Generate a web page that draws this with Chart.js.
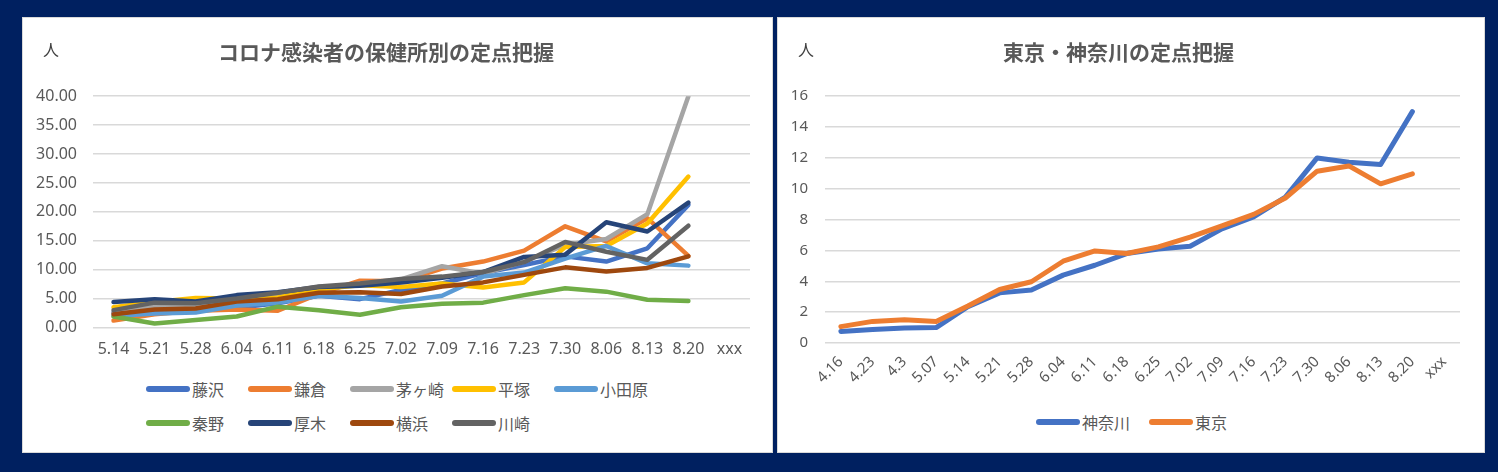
<!DOCTYPE html>
<html>
<head>
<meta charset="utf-8">
<script src="https://cdn.jsdelivr.net/npm/chart.js@4.4.1/dist/chart.umd.min.js"></script>
<style>
html, body { margin: 0; padding: 0; }
body { width: 1498px; height: 472px; background: #002060; position: relative; overflow: hidden; }
.panel { position: absolute; background: #fff; border: 1px solid #d9d9d9; box-sizing: border-box; }
canvas { position: absolute; }
.unit { position: absolute; font-family: 'Noto Sans CJK JP', sans-serif; font-size: 16px; color: #404040; line-height: 20px; }
.legend { position: absolute; font-family: 'Noto Sans CJK JP', sans-serif; font-size: 16px; color: #595959; }
.legend .item { display: flex; align-items: center; height: 34px; }
.legend .swatch { width: 44px; height: 6px; border-radius: 3px; margin-right: 2px; }
</style>
</head>
<body>
<div class="panel" style="left:22px; top:17px; width:751px; height:436px;"></div>
<div class="panel" style="left:777px; top:17px; width:708px; height:436px;"></div>
<canvas id="by-office" width="750" height="350" style="left:22px; top:17px;"></canvas>
<canvas id="tokyo-kanagawa" width="708" height="385" style="left:777px; top:17px;"></canvas>
<div class="unit" style="left:43px; top:39px;">人</div>
<div class="unit" style="left:798px; top:39px;">人</div>
<div class="legend" id="legend-office" style="left:146px; top:372px; display:grid; grid-template-columns:repeat(5, 102px);"></div>
<div class="legend" id="legend-tk" style="left:1036px; top:405px; display:flex; gap:19px;"></div>

<script>
// weekly fixed-point counts per health centre (left chart)
const officeWeeks = ['5.14', '5.21', '5.28', '6.04', '6.11', '6.18', '6.25', '7.02', '7.09', '7.16', '7.23', '7.30', '8.06', '8.13', '8.20', 'xxx'];
const officeNames = ['藤沢', '鎌倉', '茅ヶ崎', '平塚', '小田原', '秦野', '厚木', '横浜', '川崎'];
const officeColors = ['#4472C4', '#ED7D31', '#A5A5A5', '#FFC000', '#5B9BD5', '#70AD47', '#264478', '#9E480E', '#636363'];

const fujisawa  = [2.5, 2.7, 2.9, 3.4, 4.2, 5.5, 4.9, 6.5, 7.6, 9.4, 10.8, 12.3, 11.4, 13.7, 21.2];
const kamakura  = [1.2, 2.3, 2.9, 3.1, 2.9, 5.8, 8.1, 8.0, 10.2, 11.4, 13.3, 17.5, 14.9, 18.9, 12.4];
const chigasaki = [2.6, 3.6, 3.8, 4.5, 5.4, 6.5, 7.6, 8.3, 10.6, 9.3, 11.4, 14.3, 15.3, 19.6, 40.0];
const hiratsuka = [3.5, 4.4, 5.1, 5.0, 5.2, 6.6, 7.3, 7.0, 7.6, 6.9, 7.8, 13.9, 14.1, 18.0, 26.1];
const odawara   = [2.0, 2.4, 2.6, 3.8, 4.3, 5.5, 5.1, 4.5, 5.5, 8.8, 9.5, 11.9, 14.1, 11.1, 10.7];
const hadano    = [1.9, 0.7, 1.3, 1.9, 3.6, 3.0, 2.2, 3.5, 4.1, 4.3, 5.6, 6.8, 6.2, 4.8, 4.6];
const atsugi    = [4.4, 4.9, 4.5, 5.6, 6.1, 7.0, 7.2, 7.8, 8.6, 9.6, 12.2, 12.6, 18.2, 16.6, 21.6];
const yokohama  = [2.3, 3.1, 3.3, 4.5, 4.9, 6.0, 6.1, 5.8, 7.1, 7.8, 9.1, 10.4, 9.7, 10.3, 12.3];
const kawasaki  = [3.0, 4.3, 4.2, 5.0, 6.0, 7.1, 7.6, 8.4, 8.8, 9.6, 11.3, 14.8, 13.1, 11.7, 17.6];
const officeValues = [fujisawa, kamakura, chigasaki, hiratsuka, odawara, hadano, atsugi, yokohama, kawasaki];

// Tokyo vs Kanagawa (right chart)
const tkWeeks = ['4.16', '4.23', '4.3', '5.07', '5.14', '5.21', '5.28', '6.04', '6.11', '6.18', '6.25', '7.02', '7.09', '7.16', '7.23', '7.30', '8.06', '8.13', '8.20', 'xxx'];
const tkNames = ['神奈川', '東京'];
const tkColors = ['#4472C4', '#ED7D31'];
const kanagawa = [0.75, 0.88, 0.98, 1.0, 2.35, 3.25, 3.43, 4.4, 5.04, 5.8, 6.1, 6.27, 7.4, 8.17, 9.46, 12.0, 11.72, 11.57, 15.0];
const tokyo    = [1.06, 1.4, 1.5, 1.4, 2.4, 3.47, 3.97, 5.3, 5.97, 5.8, 6.23, 6.87, 7.6, 8.34, 9.4, 11.14, 11.48, 10.32, 10.97];
const tkValues = [kanagawa, tokyo];

const FONT = "'Noto Sans', 'Noto Sans CJK JP', sans-serif";
const TEXT_GREY = '#595959';
const GRID_GREY = '#D9D9D9';

function makeDatasets(names, values, colors, width) {
    // later series sit on top, like the spreadsheet
    return names.map((name, i) => ({
        label: name,
        data: values[i],
        borderColor: colors[i],
        backgroundColor: colors[i],
        borderWidth: width,
        borderCapStyle: 'round',
        borderJoinStyle: 'round',
        pointRadius: 0,
        tension: 0,
        fill: false,
        order: -i,
    }));
}

function buildLegend(id, names, colors) {
    const box = document.getElementById(id);
    names.forEach((name, i) => {
        const item = document.createElement('div');
        item.className = 'item';
        item.innerHTML = `<span class="swatch" style="background:${colors[i]}"></span><span>${name}</span>`;
        box.appendChild(item);
    });
}

function lineChart(canvasId, title, labels, datasets, yOpts, xOpts) {
    const ctx = document.getElementById(canvasId).getContext('2d');
    return new Chart(ctx, {
        type: 'line',
        data: { labels: labels, datasets: datasets },
        options: {
            responsive: false,
            animation: false,
            layout: { padding: { left: 0, right: xOpts.padRight, top: 0, bottom: 0 } },
            scales: {
                x: {
                    offset: true,
                    grid: { display: false, drawTicks: false },
                    border: { display: false },
                    ticks: {
                        color: TEXT_GREY,
                        font: { family: FONT, size: xOpts.fontSize },
                        padding: xOpts.tickPadding,
                        autoSkip: false,
                        minRotation: xOpts.rotation,
                        maxRotation: xOpts.rotation,
                    },
                    afterFit: (scale) => { scale.height = xOpts.height; },
                },
                y: {
                    min: yOpts.min,
                    max: yOpts.max,
                    grid: { color: GRID_GREY, lineWidth: 1.5, drawTicks: false },
                    border: { display: false },
                    ticks: {
                        stepSize: yOpts.step,
                        color: TEXT_GREY,
                        font: { family: FONT, size: yOpts.fontSize },
                        padding: yOpts.tickPadding,
                        callback: yOpts.format,
                    },
                    afterFit: (scale) => { scale.width = yOpts.width; },
                },
            },
            plugins: {
                legend: { display: false },
                tooltip: { enabled: false },
                title: {
                    display: true,
                    text: title,
                    color: TEXT_GREY,
                    font: { family: "'Noto Sans CJK JP', sans-serif", size: 21, weight: 'bold' },
                    padding: { top: 22, bottom: 32 },
                },
            },
        },
    });
}

lineChart('by-office', 'コロナ感染者の保健所別の定点把握', officeWeeks,
    makeDatasets(officeNames, officeValues, officeColors, 4.5),
    { min: 0, max: 40, step: 5, fontSize: 16, tickPadding: 16, width: 71, format: (v) => v.toFixed(2) },
    { fontSize: 16, tickPadding: 12, rotation: 0, height: 39.5, padRight: 22 });

lineChart('tokyo-kanagawa', '東京・神奈川の定点把握', tkWeeks,
    makeDatasets(tkNames, tkValues, tkColors, 5),
    { min: 0, max: 16, step: 2, fontSize: 15, tickPadding: 17, width: 48, format: (v) => v },
    { fontSize: 15, tickPadding: 10, rotation: 45, height: 59, padRight: 25 });

buildLegend('legend-office', officeNames, officeColors);
buildLegend('legend-tk', tkNames, tkColors);
</script>
</body>
</html>
